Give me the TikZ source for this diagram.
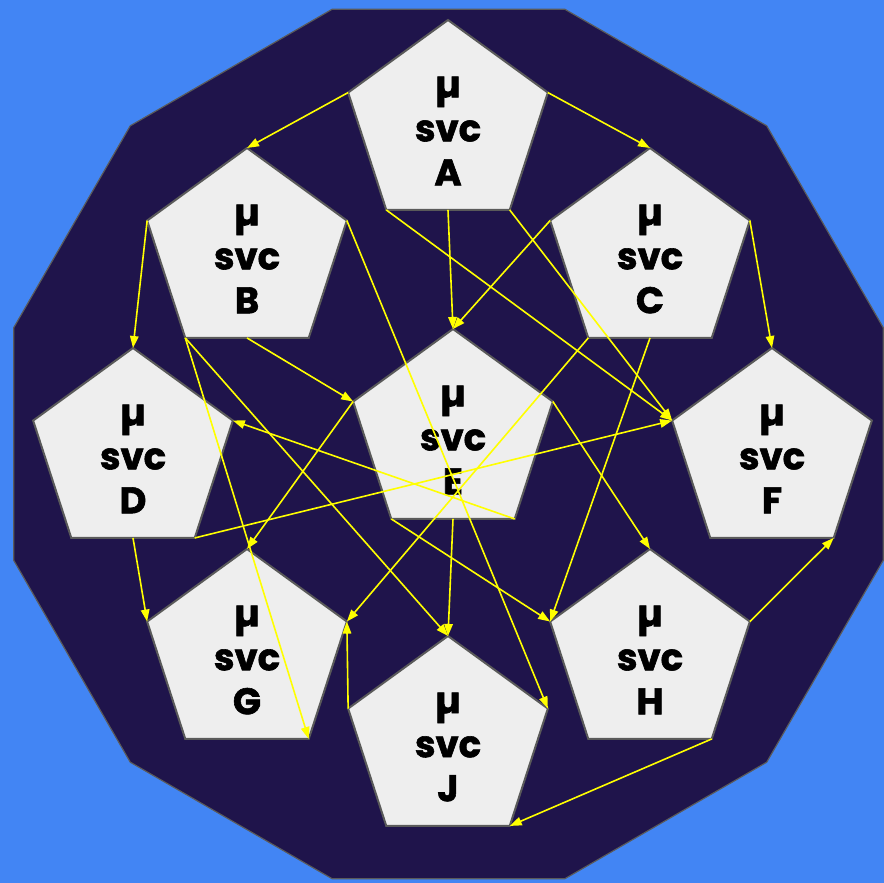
\documentclass[tikz,border=0pt]{standalone}
\usepackage{fontspec}
\setmainfont{Poppins}[BoldFeatures={FakeBold=1.6}]
\usetikzlibrary{shapes.geometric,arrows.meta}
\definecolor{bgblue}{RGB}{66,133,244}
\definecolor{navy}{RGB}{31,20,75}
\definecolor{penfill}{RGB}{238,238,238}
\definecolor{pengray}{RGB}{90,90,90}
\definecolor{arrowyellow}{RGB}{255,255,0}
\newcommand{\mymu}{\char"00B5}
\begin{document}
\begin{tikzpicture}[x=1pt,y=-1pt,
  svc/.style={regular polygon, regular polygon sides=5, minimum size=210pt,
    inner sep=0pt, outer sep=0pt, fill=penfill, draw=pengray, line width=2pt},
  lbl/.style={font=\fontsize{37}{44}\selectfont\bfseries, align=center, text=black, inner sep=0pt},
  flow/.style={draw=arrowyellow, line width=1.6pt, -{Triangle[length=12pt,width=8.5pt]}}]
\fill[bgblue] (0,0) rectangle (884,883);
\useasboundingbox (0,0) rectangle (884,883);
\filldraw[fill=navy, draw=pengray, line width=1.2pt, shift={(448.5,444)}]
  (15:450) -- (45:450) -- (75:450) -- (105:450) -- (135:450) -- (165:450) --
  (195:450) -- (225:450) -- (255:450) -- (285:450) -- (315:450) -- (345:450) -- cycle;
\foreach \n/\x/\y in {A/448/125, B/247/253, C/650/253, D/133/453, E/453/434,
                      F/772/453, G/247/654, H/650/654, J/448/741} {
  \node[svc] (\n) at (\x,\y) {};
  \node[lbl] (t\n) at (\x,\y+6) {\mymu\\svc\\\n};
}
\draw[flow] (A.corner 2) -- (B.corner 1);
\draw[flow] (A.corner 5) -- (C.corner 1);
\draw[flow] (A.side 3) -- (E.corner 1);
\draw[flow] (A.corner 3) -- (F.corner 2);
\draw[flow] (A.corner 4) -- (F.corner 2);
\draw[flow] (B.corner 2) -- (D.corner 1);
\draw[flow] (B.side 3) -- (E.corner 2);
\draw[flow] (B.corner 5) -- (J.corner 5);
\draw[flow] (B.corner 3) -- (G.corner 4);
\draw[flow] (B.corner 3) -- (J.corner 1);
\draw[flow] (C.corner 2) -- (E.corner 1);
\draw[flow] (C.corner 5) -- (F.corner 1);
\draw[flow] (C.corner 3) -- (G.corner 5);
\draw[flow] (C.side 3) -- (H.corner 2);
\draw[flow] (D.corner 4) -- (F.corner 2);
\draw[flow] (D.side 3) -- (G.corner 2);
\draw[flow] (E.corner 2) -- (G.corner 1);
\draw[flow] (E.corner 4) -- (D.corner 5);
\draw[flow] (E.corner 5) -- (H.corner 1);
\draw[flow] (E.side 3) -- (J.corner 1);
\draw[flow] (E.corner 3) -- (H.corner 2);
\draw[flow] (H.corner 5) -- (F.corner 4);
\draw[flow] (H.corner 4) -- (J.corner 4);
\draw[flow] (J.corner 2) -- (G.corner 5);
\end{tikzpicture}
\end{document}
